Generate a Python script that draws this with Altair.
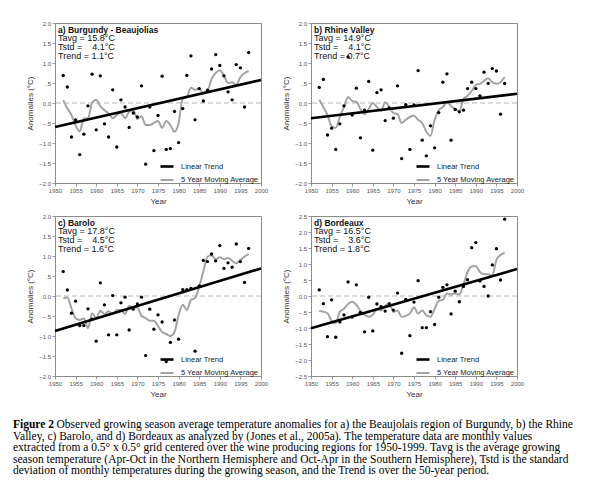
import altair as alt
import pandas as pd

SANS = "Liberation Sans, Arial, sans-serif"
SERIF = "Liberation Serif, Times New Roman, serif"

years = list(range(1952, 1998))
x_ticks = list(range(1950, 2001, 5))

panel_titles = ["a) Burgundy - Beaujolias", "b) Rhine Valley", "c) Barolo", "d) Bordeaux"]
tavg = ["15.8", "14.9", "17.8", "16.5"]
tstd = ["4.1", "4.1", "4.5", "3.6"]
trend_txt = ["1.1", "0.7", "1.6", "1.8"]
y_limits = [2.0, 2.0, 2.0, 2.5]

anom_a = [0.69, 0.40, -0.85, -0.42, -1.29, -0.78, -0.07, 0.72, -0.67, 0.68, -0.52, -0.85, 0.33, -1.10, 0.08,
          -0.10, -0.61, -0.25, -0.35, 0.43, -1.53, -0.10, -1.19, -0.31, 0.67, -1.16, -1.14, -0.21, -0.99, -0.14,
          0.69, 1.18, -0.42, 0.36, 0.05, 0.32, 0.85, 1.21, 0.94, 0.68, 0.28, 0.08, 0.96, 0.88, -0.10, 1.26]
anom_b = [0.39, 0.59, -0.80, -0.63, -1.16, -0.52, -0.07, 1.15, -0.30, 0.37, -0.87, -0.18, 0.54, -1.18, 0.26,
          0.33, -0.44, -0.12, -0.38, 0.43, -1.39, -0.04, -1.16, -0.05, 0.81, -0.93, -1.32, -0.57, -1.12, -0.24,
          0.52, 0.73, -0.93, -0.16, -0.22, -0.18, 0.36, 0.52, 0.36, 0.18, 0.77, 0.49, 0.86, 0.80, -0.28, 0.49]
anom_c = [0.61, 0.15, -0.43, -0.13, -0.74, -0.74, -0.32, -0.58, -1.13, 0.33, -0.22, -0.97, 0.01, -0.97, -0.17,
          -0.03, -0.85, -0.33, -0.20, -0.03, -1.49, -0.33, -0.83, -0.47, -0.65, -1.64, -1.16, -0.60, -1.08, 0.16,
          0.16, 0.19, -1.38, 0.25, 0.89, 0.86, 1.05, 0.88, 1.26, 0.69, 0.83, 0.72, 1.30, 0.86, 0.34, 1.19]
anom_d = [0.19, -0.24, -1.27, -0.12, -1.29, -0.81, -0.59, 0.44, -0.66, 0.35, -0.51, -1.12, -0.04, -1.09, -0.25,
          -0.33, -0.47, -0.24, -0.44, 0.09, -1.79, -0.11, -1.24, -0.19, 0.48, -0.99, -0.99, -0.49, -0.89, -0.04,
          0.27, 0.35, -0.56, 0.15, -0.18, 0.30, 0.51, 1.51, 1.67, 0.47, 0.30, 0.00, 0.97, 1.48, 0.50, 2.40]

ma_a = [0.07, -0.14, -0.30, -0.56, -0.71, -0.39, -0.38, 0.00, 0.08, -0.08, -0.18, -0.26, -0.38, -0.30, -0.25,
        -0.38, -0.22, -0.18, -0.40, -0.33, -0.55, -0.55, -0.50, -0.45, -0.62, -0.45, -0.55, -0.72, -0.50, 0.10,
        0.15, 0.38, 0.33, 0.35, 0.25, 0.30, 0.60, 0.75, 0.82, 0.68, 0.50, 0.52, 0.45, 0.65, 0.75, 0.80]
ma_b = [0.08, -0.10, -0.30, -0.58, -0.62, -0.35, -0.10, 0.15, 0.05, 0.03, -0.15, -0.28, -0.15, 0.00, -0.10,
        -0.20, 0.02, -0.10, -0.25, -0.28, -0.50, -0.42, -0.35, -0.32, -0.42, -0.50, -0.72, -0.82, -0.42, -0.18,
        -0.10, 0.02, -0.08, -0.15, -0.20, 0.10, 0.18, 0.30, 0.45, 0.48, 0.55, 0.62, 0.52, 0.48, 0.52, 0.65]
ma_c = [-0.06, -0.04, -0.31, -0.56, -0.60, -0.56, -0.80, -0.43, -0.55, -0.37, -0.45, -0.38, -0.45, -0.35, -0.35,
        -0.45, -0.25, -0.30, -0.28, -0.50, -0.55, -0.62, -0.62, -0.75, -0.90, -0.95, -1.00, -0.90, -0.48, -0.22,
        -0.35, -0.10, -0.05, 0.23, 0.61, 0.98, 1.02, 0.92, 0.97, 0.92, 0.95, 0.88, 0.82, 0.90, 0.98, 1.05]
ma_d = [-0.47, -0.49, -0.54, -0.78, -0.85, -0.49, -0.40, -0.25, -0.18, -0.28, -0.47, -0.59, -0.65, -0.59, -0.40,
        -0.45, -0.30, -0.25, -0.50, -0.45, -0.65, -0.62, -0.55, -0.35, -0.55, -0.45, -0.60, -0.65, -0.40, -0.15,
        -0.12, 0.08, 0.05, 0.08, 0.05, 0.35, 0.75, 0.92, 0.94, 0.75, 0.68, 0.68, 0.64, 1.13, 1.28, 1.35]

trend_1950 = [-0.60, -0.38, -0.875, -1.01]
trend_2000 = [0.575, 0.23, 0.69, 0.84]

anoms = [anom_a, anom_b, anom_c, anom_d]
mas = [ma_a, ma_b, ma_c, ma_d]

SERIES = ["Linear Trend", "5 Year Moving Average"]
LABEL_EXPR = "datum.value == 0 ? '0.0' : replace(format(datum.value, '.1f'), '0.', '.')"

caption_first_bold = "Figure 2"
caption_first_rest = ("Observed growing season average temperature anomalies for a) the Beaujolais region of "
                      "Burgundy, b) the Rhine")
caption_lines = [
    "Valley, c) Barolo, and d) Bordeaux as analyzed by (Jones et al., 2005a). The temperature data are monthly values",
    "extracted from a 0.5\u00b0 x 0.5\u00b0 grid centered over the wine producing regions for 1950-1999. Tavg is the average growing",
    "season temperature (Apr-Oct in the Northern Hemisphere and Oct-Apr in the Southern Hemisphere), Tstd is the standard",
    "deviation of monthly temperatures during the growing season, and the Trend is over the 50-year period.",
]


def y_ticks(lim):
    n = int(round(lim * 2))
    return [k / 2 for k in range(-n, n + 1)]


def panel(i):
    lim = y_limits[i]
    x = alt.X("year:Q", scale=alt.Scale(domain=[1950, 2000], nice=False, zero=False),
              axis=alt.Axis(values=x_ticks, format="d", title="Year", labelFlush=False, labelOverlap=False))
    y = alt.Y("value:Q", scale=alt.Scale(domain=[-lim, lim], nice=False, zero=False),
              axis=alt.Axis(values=y_ticks(lim), labelExpr=LABEL_EXPR, title="Anomalies (\u00b0C)",
                            labelFlush=False, labelOverlap=False))
    color = alt.Color("series:N", scale=alt.Scale(domain=SERIES, range=["#000000", "#a3a3a3"]),
                      legend=alt.Legend(title=None))
    sw = alt.StrokeWidth("series:N", scale=alt.Scale(domain=SERIES, range=[2.6, 2.0]),
                         legend=alt.Legend(title=None))

    zero = alt.Chart(pd.DataFrame({"value": [0.0]})).mark_rule(
        color="#b8b8b8", strokeDash=[5, 3], strokeWidth=1).encode(y=y)
    ma_df = pd.DataFrame({"year": years, "value": mas[i], "series": SERIES[1]})
    tr_df = pd.DataFrame({"year": [1950, 2000], "value": [trend_1950[i], trend_2000[i]], "series": SERIES[0]})
    ma = alt.Chart(ma_df).mark_line(interpolate="monotone").encode(x=x, y=y, color=color, strokeWidth=sw)
    tr = alt.Chart(tr_df).mark_line().encode(x=x, y=y, color=color, strokeWidth=sw)
    pts = alt.Chart(pd.DataFrame({"year": years, "value": anoms[i]})).mark_circle(
        size=11, color="#000000", opacity=1).encode(x=x, y=y)
    head = alt.Chart(pd.DataFrame({"t": [panel_titles[i]]})).mark_text(
        align="left", baseline="middle", font=SANS, fontSize=8.5, fontWeight="bold", color="#111111"
    ).encode(text="t:N", x=alt.value(3), y=alt.value(6.5))
    stats_text = (f"Tavg = {tavg[i]}\u00b0C\nTstd =\u00a0\u00a0\u00a0\u00a0{tstd[i]}\u00b0C\n"
                  f"Trend = {trend_txt[i]}\u00b0C")
    stats = alt.Chart(pd.DataFrame({"t": [stats_text]})).mark_text(
        align="left", baseline="top", font=SANS, fontSize=9, lineBreak="\n", lineHeight=9, color="#111111"
    ).encode(text="t:N", x=alt.value(3), y=alt.value(11))
    return alt.layer(zero, ma, tr, pts, head, stats).properties(width=206, height=160)


def indep(c):
    return c.resolve_scale(color="independent", strokeWidth="independent", x="independent",
                           y="independent").resolve_legend(color="independent", strokeWidth="independent")


row1 = indep(alt.hconcat(panel(0), panel(1), spacing=13))
row2 = indep(alt.hconcat(panel(2), panel(3), spacing=13))
grid = indep(alt.vconcat(row1, row2, spacing=6))

cap_x = -42
cap_fs = 11.5
cap_bold = alt.Chart(pd.DataFrame({"t": [caption_first_bold]})).mark_text(
    align="left", baseline="top", font=SERIF, fontSize=cap_fs, fontWeight="bold", color="#000000"
).encode(text="t:N", x=alt.value(cap_x), y=alt.value(0))
cap_rest = alt.Chart(pd.DataFrame({"t": [caption_first_rest]})).mark_text(
    align="left", baseline="top", font=SERIF, fontSize=cap_fs, color="#000000"
).encode(text="t:N", x=alt.value(cap_x + 43.5), y=alt.value(0))
cap_block = alt.Chart(pd.DataFrame({"t": ["\n".join(caption_lines)]})).mark_text(
    align="left", baseline="top", font=SERIF, fontSize=cap_fs, lineBreak="\n", lineHeight=11.6, color="#000000"
).encode(text="t:N", x=alt.value(cap_x), y=alt.value(11.6))
caption = alt.layer(cap_bold, cap_rest, cap_block).properties(
    width=500, height=58, view=alt.ViewBackground(strokeOpacity=0))

chart = alt.vconcat(grid, caption, spacing=20).properties(
    padding={"left": 5, "top": 11, "right": 2, "bottom": 2}, background="white"
).configure_axis(
    domain=False, ticks=True, tickSize=3, tickColor="#808080", tickWidth=0.8, grid=False,
    labelFont=SANS, labelFontSize=6, labelColor="#555555", labelPadding=1.5,
    titleFont=SANS, titleFontSize=8, titleFontWeight="normal", titleColor="#333333", titlePadding=4
).configure_view(
    stroke="#8c8c8c", strokeWidth=1
).configure_legend(
    orient="none", legendX=104, legendY=135.5, symbolType="stroke", symbolSize=169,
    labelFont=SANS, labelFontSize=7.5, labelColor="#222222", labelOffset=6, rowPadding=-2, padding=0
)

chart.save("out.html", embed_options={"renderer": "svg", "actions": False})
